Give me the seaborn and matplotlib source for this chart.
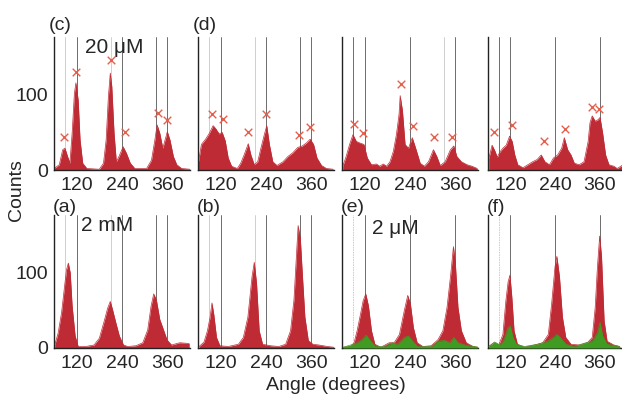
import numpy as np
import matplotlib
matplotlib.use("Agg")
import matplotlib.pyplot as plt
import matplotlib.transforms as mtransforms
import seaborn as sns

# --- histogram outlines (angle in degrees, counts) ---
c_ang = [60, 74, 83, 89, 96, 102, 108, 114, 118, 124, 129, 136, 147, 180, 191, 198, 204, 209, 213, 219,
         225, 232, 243, 252, 262, 274, 305, 318, 327, 333, 340, 348, 354, 360, 367, 376, 385, 398, 420]
c_cnt = [2, 7, 27, 29, 18, 9, 49, 102, 116, 93, 40, 9, 2, 1, 9, 40, 98, 129, 111, 49,
         11, 18, 31, 22, 9, 2, 2, 13, 40, 60, 49, 29, 40, 51, 40, 18, 7, 2, 1]
c_x_ang = [87, 118, 210, 247, 334, 360]
c_x_cnt = [44, 131, 146, 51, 76, 66]

d_ang = [60, 69, 80, 89, 100, 107, 116, 124, 132, 140, 149, 164, 173, 182, 193, 200, 209, 218, 227, 236,
         242, 249, 258, 269, 285, 298, 311, 324, 336, 347, 357, 366, 375, 387, 400, 418]
d_cnt = [7, 34, 41, 48, 59, 55, 48, 50, 39, 16, 5, 2, 9, 20, 35, 20, 7, 11, 30, 48,
         59, 34, 11, 6, 11, 18, 23, 30, 32, 36, 41, 34, 16, 6, 2, 1]
d_x_ang = [98, 126, 193, 240, 327, 357]
d_x_cnt = [75, 68, 51, 75, 46, 57]

e_top_ang = [62, 71, 80, 89, 98, 107, 118, 127, 138, 151, 160, 169, 178, 187, 196, 204, 211, 214, 220, 227,
             236, 246, 255, 267, 278, 289, 302, 311, 320, 333, 347, 356, 364, 376, 391, 404, 418]
e_top_cnt = [5, 18, 34, 47, 38, 36, 34, 16, 7, 8, 5, 8, 5, 11, 25, 47, 74, 99, 79, 34,
             29, 43, 29, 9, 5, 11, 27, 18, 6, 11, 27, 32, 18, 11, 7, 5, 2]
e_x_ang = [92, 116, 215, 248, 304, 351]
e_x_cnt = [61, 49, 115, 58, 44, 44]

f_top_ang = [62, 71, 78, 85, 92, 100, 109, 118, 125, 132, 140, 154, 167, 180, 192, 203, 213, 225, 236, 247,
             258, 265, 274, 283, 292, 305, 318, 329, 334, 340, 348, 356, 361, 368, 376, 385, 398, 407, 420]
f_top_cnt = [15, 33, 26, 17, 24, 29, 33, 45, 38, 20, 7, 3, 7, 11, 14, 20, 11, 7, 16, 20,
             29, 43, 27, 20, 9, 7, 11, 38, 63, 72, 65, 67, 70, 49, 20, 7, 5, 2, 6]
f_x_ang = [76, 125, 210, 267, 340, 357]
f_x_cnt = [51, 60, 38, 55, 84, 81]

a_ang = [62, 71, 80, 87, 93, 98, 103, 108, 116, 124, 144, 166, 180, 193, 202, 209, 215, 224, 233, 244,
         255, 277, 295, 308, 317, 324, 331, 340, 350, 359, 371, 393, 418]
a_cnt = [4, 20, 47, 78, 104, 113, 100, 56, 16, 2, 2, 4, 13, 36, 53, 62, 51, 33, 16, 4,
         2, 3, 7, 24, 56, 72, 64, 38, 24, 11, 4, 7, 6]

b_ang = [63, 76, 85, 92, 97, 102, 109, 118, 140, 167, 180, 192, 203, 209, 215, 222, 231, 252, 274, 292,
         305, 314, 320, 325, 331, 336, 343, 352, 364, 380, 403, 420]
b_cnt = [2, 8, 23, 41, 60, 44, 14, 3, 2, 5, 14, 41, 95, 114, 86, 23, 5, 3, 2, 5,
         23, 64, 118, 163, 145, 100, 41, 10, 5, 4, 2, 1]

e_bot_ang = [63, 83, 92, 100, 109, 116, 123, 130, 138, 147, 163, 185, 198, 212, 225, 234, 241, 249, 259, 274,
             296, 314, 327, 338, 348, 355, 360, 367, 376, 389, 407, 420]
e_bot_red = [1, 2, 7, 23, 45, 63, 72, 56, 23, 5, 1, 7, 7, 18, 50, 70, 59, 27, 7, 2,
             3, 11, 23, 54, 99, 135, 113, 54, 23, 7, 2, 1]
e_grn_ang = [63, 83, 100, 113, 124, 136, 149, 172, 194, 207, 225, 236, 247, 260, 296, 314, 332, 345, 356, 367,
             385, 420]
e_grn_cnt = [1, 4, 7, 11, 17, 9, 2, 2, 7, 5, 14, 16, 9, 2, 2, 9, 10, 7, 14, 7,
             4, 1]

f_bot_ang = [62, 76, 89, 100, 108, 114, 119, 124, 130, 139, 158, 185, 207, 222, 231, 240, 245, 252, 260, 269,
             283, 305, 327, 340, 348, 354, 360, 365, 372, 380, 398, 414]
f_bot_red = [2, 7, 4, 18, 63, 88, 97, 68, 23, 5, 1, 4, 7, 18, 59, 108, 122, 95, 41, 14,
             5, 4, 7, 14, 54, 108, 149, 122, 36, 9, 4, 2]
f_grn_ang = [62, 78, 92, 103, 114, 120, 127, 136, 158, 194, 220, 236, 245, 254, 269, 292, 323, 340, 354, 361,
             368, 380, 414]
f_grn_cnt = [2, 8, 4, 11, 27, 29, 14, 5, 2, 5, 9, 14, 18, 14, 5, 2, 7, 9, 20, 34,
             16, 5, 2]

# reference angle lines (dark / faint) per panel
lines_main = [120, 240, 330, 360]
lines_faint = [90, 210]
lines_e_top = [90, 120, 240, 360]
lines_e_top_faint = [330]
lines_green = [120, 240, 360]
lines_green_faint = [90]

x_ticks = [120, 240, 360]
y_ticks = [0, 100]
labels = ["(c)", "(d)", "", "", "(a)", "(b)", "(e)", "(f)"]
conc = {0: "20 μM", 4: "2 mM", 6: "2 μM"}

RED = "#bf2b34"
GREEN = "#3f9b22"
XCOL = "#e4604c"

sns.set_style("white")
plt.rcParams["font.family"] = ["Liberation Sans", "DejaVu Sans"]

fig = plt.figure(figsize=(6.22, 3.95), dpi=100)
W, H = 622, 395
lefts = [54, 198, 342, 488]
widths = [136, 136, 136, 134]
tops = [37, 215]
ah = 133

panels = [
    (c_ang, c_cnt, None, None, c_x_ang, c_x_cnt, lines_main, lines_faint),
    (d_ang, d_cnt, None, None, d_x_ang, d_x_cnt, lines_main, lines_faint),
    (e_top_ang, e_top_cnt, None, None, e_x_ang, e_x_cnt, lines_e_top, lines_e_top_faint),
    (f_top_ang, f_top_cnt, None, None, f_x_ang, f_x_cnt, lines_e_top, []),
    (a_ang, a_cnt, None, None, None, None, lines_main, lines_faint),
    (b_ang, b_cnt, None, None, None, None, lines_main, lines_faint),
    ((e_bot_ang, e_grn_ang), e_bot_red, e_grn_cnt, "g", None, None, lines_green, lines_green_faint),
    ((f_bot_ang, f_grn_ang), f_bot_red, f_grn_cnt, "g", None, None, lines_green, lines_green_faint),
]

# tick labels in the scan sit a few pixels right of the reference lines
shift = mtransforms.ScaledTranslation(5 / 100, 0, fig.dpi_scale_trans)

for i, (ang, red, grn, flag, xa, xc, dark, faint) in enumerate(panels):
    row, col = divmod(i, 4)
    ax = fig.add_axes([lefts[col] / W, 1 - (tops[row] + ah) / H, widths[col] / W, ah / H])
    for v in faint:
        ax.axvline(v, color="#c8c8c8", lw=0.6, ls=(0, (2, 1)) if flag else "-", zorder=1)
    for v in dark:
        ax.axvline(v, color="#555555", lw=0.6, zorder=1)
    red_ang = ang[0] if flag else ang
    ax.fill_between(red_ang, red, color=RED, lw=0, zorder=2)
    sns.lineplot(x=red_ang, y=red, ax=ax, color=RED, lw=0.5, sort=False, zorder=2)
    if flag:
        ax.fill_between(ang[1], grn, color=GREEN, lw=0, zorder=3)
        sns.lineplot(x=ang[1], y=grn, ax=ax, color=GREEN, lw=0.5, sort=False, zorder=3)
    if xa is not None:
        sns.scatterplot(x=xa, y=xc, ax=ax, marker="x", s=30, color=XCOL, linewidth=1.0, zorder=4)

    ax.set_xlim(60, 420)
    ax.set_ylim(0, 177)
    ax.set_xticks(x_ticks)
    ax.set_xticklabels([str(t) for t in x_ticks], fontsize=14)
    for lab in ax.get_xticklabels():
        lab.set_transform(lab.get_transform() + shift)
    ax.set_yticks(y_ticks)
    if col == 0:
        ax.set_yticklabels([str(t) for t in y_ticks], fontsize=14)
    else:
        ax.set_yticklabels([])
    ax.tick_params(axis="x", length=0, pad=5)
    ax.tick_params(axis="y", direction="in", length=4, width=0.8, pad=4)
    for s in ["top", "right"]:
        ax.spines[s].set_visible(False)
    for s in ["left", "bottom"]:
        ax.spines[s].set_color("#222222")
        ax.spines[s].set_linewidth(1.0)
    ax.set_xlabel("")
    ax.set_ylabel("")
    if labels[i]:
        ax.text(-0.04 if row == 0 else -0.01, 1.02 if row == 0 else 0.99, labels[i],
                transform=ax.transAxes, fontsize=14, ha="left", va="bottom")
    if i in conc:
        ax.text(0.44 if i == 0 else 0.39, 0.92 if i != 6 else 0.90, conc[i],
                transform=ax.transAxes, fontsize=15, ha="center", va="center")

fig.text(16 / W, 1 - 190 / H, "Counts", rotation=90, ha="center", va="center", fontsize=14)
fig.text(336 / W, 1 - 385 / H, "Angle (degrees)", ha="center", va="center", fontsize=14)

fig.savefig("out.png", dpi=100, facecolor="white")
